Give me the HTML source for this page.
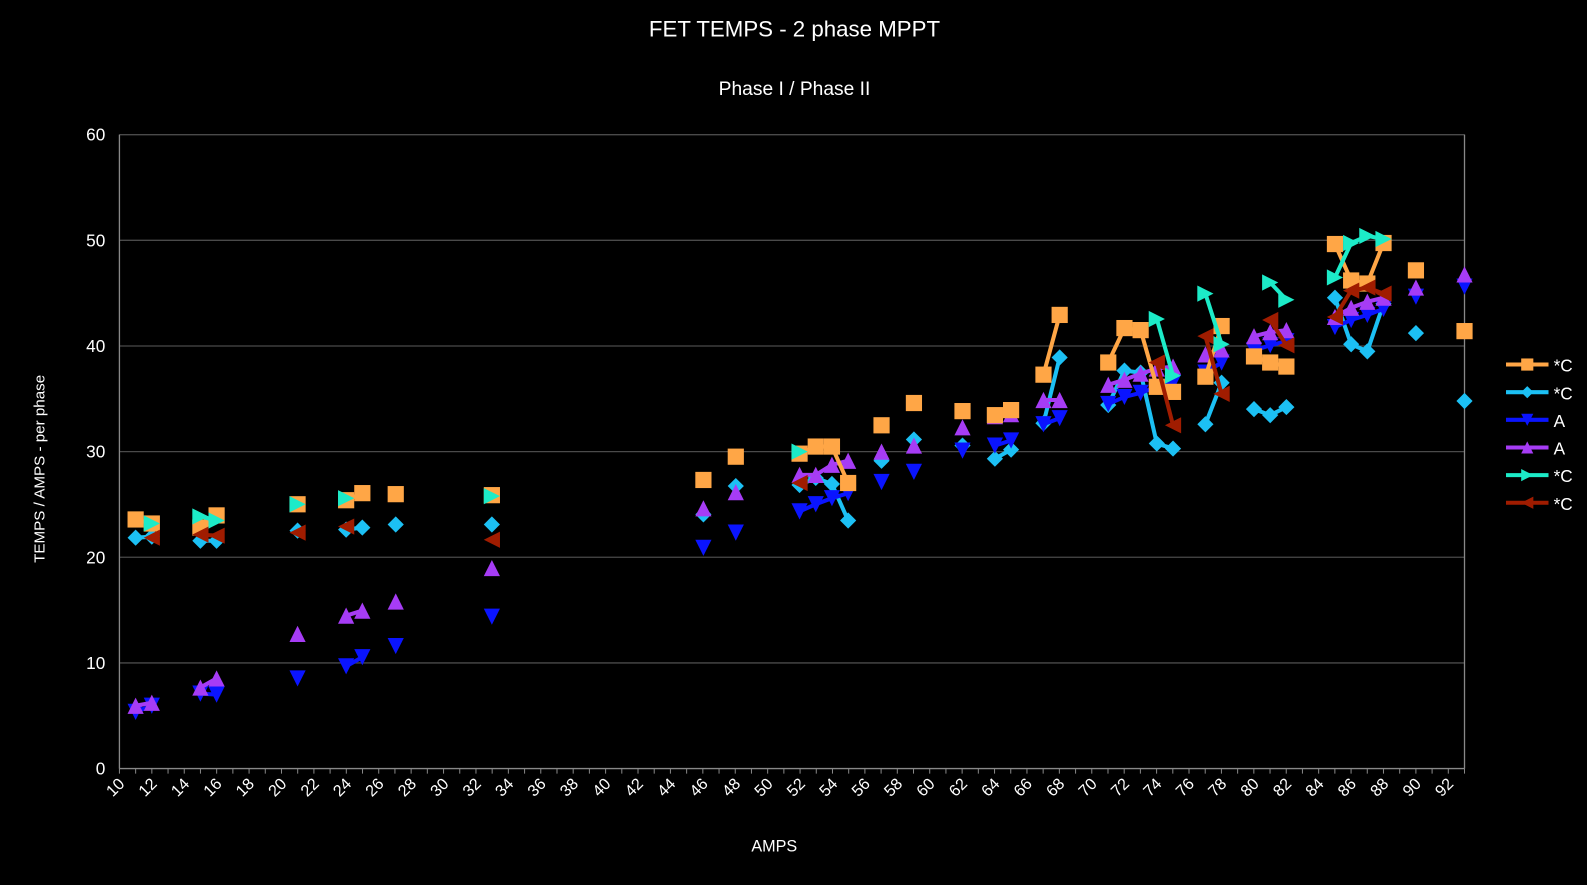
<!DOCTYPE html>
<html><head><meta charset="utf-8"><style>
html,body{margin:0;padding:0;background:#000;}
svg{display:block;font-family:"Liberation Sans",sans-serif;}
</style></head><body>
<svg id="s" width="1587" height="885" viewBox="0 0 1587 885" xmlns="http://www.w3.org/2000/svg">
<rect width="1587" height="885" fill="#000"/>
<g transform="scale(1.0121,1.0126)">
<text x="785" y="36" fill="#fff" font-size="22" text-anchor="middle">FET TEMPS - 2 phase MPPT</text>
<text x="785" y="94" fill="#fff" font-size="19" text-anchor="middle">Phase I / Phase II</text>
<text x="765" y="841" fill="#fff" font-size="16" text-anchor="middle">AMPS</text>
<text transform="translate(44,463) rotate(-90)" fill="#fff" font-size="15" text-anchor="middle">TEMPS / AMPS - per phase</text>
<g id="g"></g>
</g>
</svg>
<script>
const NS="http://www.w3.org/2000/svg",g=document.getElementById('g');
function el(t,a,txt){const e=document.createElementNS(NS,t);for(const k in a)e.setAttribute(k,a[k]);if(txt!==undefined)e.textContent=txt;g.appendChild(e);return e;}
const L=118,R=1447,T=133,B=759;
for(let v=0;v<=60;v+=10){const y=B-(B-T)*v/60;el('line',{x1:L,x2:R,y1:y,y2:y,stroke:v==0?'#888':'#4a4a4a','stroke-width':1.3});el('text',{x:104,y:y+6,fill:'#fff','font-size':17,'text-anchor':'end'},v);}
el('line',{x1:L,x2:L,y1:T,y2:B,stroke:'#888','stroke-width':1.3});
el('line',{x1:R,x2:R,y1:T,y2:B,stroke:'#888','stroke-width':1.3});
const sx=(R-L)/83;
for(let v=10;v<=93;v++){const x=L+(v-10)*sx;el('line',{x1:x,x2:x,y1:B,y2:B+5,stroke:'#888'});}
for(let v=10;v<=92;v+=2){const x=L+(v-10)*sx;el('text',{x:0,y:0,fill:'#fff','font-size':16,'text-anchor':'end',transform:`translate(${x+6},${B+16}) rotate(-45)`},v);}
function mk(type,x,y,c,s){s=s||8;
 if(type=='sq')el('rect',{x:x-s,y:y-s,width:2*s,height:2*s,fill:c});
 else if(type=='di')el('polygon',{points:`${x},${y-s} ${x+s},${y} ${x},${y+s} ${x-s},${y}`,fill:c});
 else if(type=='dn')el('polygon',{points:`${x-s},${y-s} ${x+s},${y-s} ${x},${y+s}`,fill:c});
 else if(type=='up')el('polygon',{points:`${x-s},${y+s} ${x+s},${y+s} ${x},${y-s}`,fill:c});
 else if(type=='rt')el('polygon',{points:`${x-s},${y-s} ${x+s},${y} ${x-s},${y+s}`,fill:c});
 else if(type=='lt')el('polygon',{points:`${x+s},${y-s} ${x-s},${y} ${x+s},${y+s}`,fill:c});}
function series(type,c,groups){for(const gr of groups){if(gr.length>1){el('polyline',{points:gr.map(p=>p.join(',')).join(' '),fill:'none',stroke:c,'stroke-width':4,'stroke-linejoin':'round'});}}
 for(const gr of groups)for(const p of gr)mk(type,p[0],p[1],c);}
const OR='#ffa646',LB='#1cc0f4',BL='#0a14ff',PU='#a63cf5',CY='#1cebc8',DR='#a01c00';
series('di',LB,[[[134,531],[150,530]],[[198,534],[214,534]],[[294,524]],[[342,523],[358,521]],[[391,518]],[[486,518]],[[695,508]],[[727,480]],[[790,479],[806,472],[822,478],[838,514]],[[871,455]],[[903,434]],[[951,440]],[[983,453],[999,444]],[[1031,418],[1047,353]],[[1095,400],[1111,366],[1127,368],[1143,438],[1159,443]],[[1191,419],[1207,378]],[[1239,404],[1255,410],[1271,402]],[[1319,294],[1335,340],[1351,347],[1367,300]],[[1399,329]],[[1447,396]]]);
series('dn',BL,[[[134,703],[150,697]],[[198,685],[214,686]],[[294,670]],[[342,658],[358,649]],[[391,638]],[[486,609]],[[695,541]],[[727,526]],[[790,505],[806,498],[822,492],[838,487]],[[871,476]],[[903,466]],[[951,445]],[[983,440],[999,435]],[[1031,419],[1047,413]],[[1095,399],[1111,392],[1127,388],[1143,382],[1159,378]],[[1191,368],[1207,358]],[[1239,346],[1255,341],[1271,337]],[[1319,323],[1335,316],[1351,311],[1367,305]],[[1399,293]],[[1447,283]]]);
series('up',PU,[[[134,697],[150,694]],[[198,679],[214,670]],[[294,626]],[[342,608],[358,603]],[[391,594]],[[486,561]],[[695,502]],[[727,486]],[[790,469],[806,469],[822,459],[838,455]],[[871,446]],[[903,440]],[[951,422]],[[983,411],[999,409]],[[1031,395],[1047,395]],[[1095,380],[1111,375],[1127,369],[1143,364],[1159,362]],[[1191,350],[1207,345]],[[1239,332],[1255,328],[1271,326]],[[1319,313],[1335,304],[1351,298],[1367,294]],[[1399,284]],[[1447,271]]]);
series('sq',OR,[[[134,513],[150,517]],[[198,521],[214,509]],[[294,498]],[[342,494],[358,487]],[[391,488]],[[486,489]],[[695,474]],[[727,451]],[[790,448],[806,441],[822,441],[838,477]],[[871,420]],[[903,398]],[[951,406]],[[983,410],[999,405]],[[1031,370],[1047,311]],[[1095,358],[1111,324],[1127,326],[1143,382],[1159,387]],[[1191,372],[1207,322]],[[1239,352],[1255,358],[1271,362]],[[1319,241],[1335,277],[1351,280],[1367,240]],[[1399,267]],[[1447,327]]]);
series('rt',CY,[[[150,517]],[[198,510],[214,514]],[[294,498]],[[342,492]],[[486,490]],[[790,446]],[[1143,315],[1159,371]],[[1191,290],[1207,340]],[[1255,279],[1271,296]],[[1319,274],[1335,240],[1351,233],[1367,236]]]);
series('lt',DR,[[[150,531]],[[198,528],[214,529]],[[294,526]],[[342,520]],[[486,533]],[[790,477]],[[1143,358],[1159,420]],[[1191,332],[1207,389]],[[1255,316],[1271,341]],[[1319,313],[1335,287],[1351,284],[1367,290]]]);
const leg=[['sq',OR,'*C'],['di',LB,'*C'],['dn',BL,'A'],['up',PU,'A'],['rt',CY,'*C'],['lt',DR,'*C']];
leg.forEach((l,i)=>{const y=360+i*27.3;el('line',{x1:1488,x2:1530,y1:y,y2:y,stroke:l[1],'stroke-width':4});mk(l[0],1509,y,l[1],6);el('text',{x:1535,y:y+7,fill:'#fff','font-size':17},l[2]);});
</script>
</body></html>
